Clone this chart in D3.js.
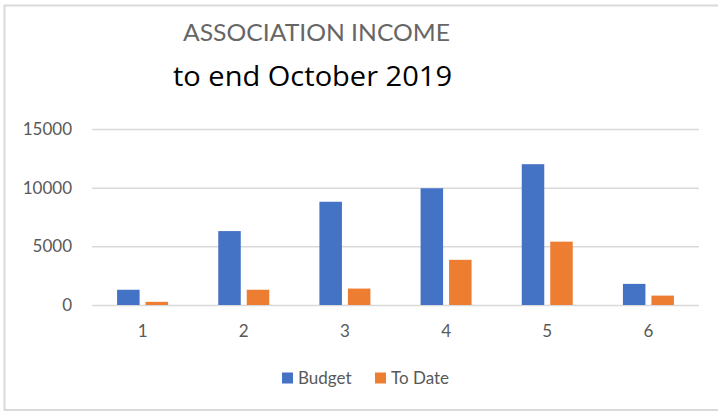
<!DOCTYPE html>
<html>
<head>
<meta charset="utf-8">
<script src="https://cdn.jsdelivr.net/npm/d3@7"></script>
<style>
  html, body { margin: 0; padding: 0; background: #fff; }
  svg { display: block; }
  text { font-family: Lato, "Open Sans", sans-serif; }
</style>
</head>
<body>
<svg id="chart" width="718" height="411"></svg>
<script>
const categories = ["1", "2", "3", "4", "5", "6"];
const seriesNames = ["Budget", "To Date"];
const budget = [1300, 6300, 8800, 9950, 12000, 1800];
const toDate = [270, 1300, 1400, 3850, 5400, 800];
const yTicks = [0, 5000, 10000, 15000];
const titleText = "ASSOCIATION INCOME";
const subtitleText = "to end October 2019";
const colors = ["#4472C4", "#ED7D31"];

const seriesValues = [budget, toDate];
const data = categories.map((c, i) => ({
  cat: c,
  values: seriesNames.map((s, j) => ({ series: s, value: seriesValues[j][i] }))
}));

const svg = d3.select("#chart");
const W = 718, H = 411;

// chart border
svg.append("rect")
  .attr("x", 4.5).attr("y", 5.5)
  .attr("width", W + 4).attr("height", H - 6.5)
  .attr("fill", "#fff")
  .attr("stroke", "#d9d9d9")
  .attr("stroke-width", 2);

const plot = { left: 92, right: 699, top: 129, bottom: 305 };

const x0 = d3.scaleBand()
  .domain(categories)
  .range([plot.left, plot.right])
  .padding(0);

const pairW = 51;
const x1 = d3.scaleBand()
  .domain(seriesNames)
  .range([x0.bandwidth() / 2 - pairW / 2, x0.bandwidth() / 2 + pairW / 2])
  .paddingInner(0.21)
  .paddingOuter(0);

const y = d3.scaleLinear()
  .domain([0, 15000])
  .range([plot.bottom, plot.top]);

// gridlines
const yAxis = d3.axisLeft(y)
  .tickValues(yTicks)
  .tickSize(-(plot.right - plot.left))
  .tickFormat(d3.format("d"))
  .tickPadding(20);

const gy = svg.append("g")
  .attr("transform", `translate(${plot.left},0)`)
  .call(yAxis);
gy.select(".domain").remove();
gy.selectAll(".tick line")
  .attr("stroke", "#d9d9d9")
  .attr("stroke-width", 1.5);
gy.selectAll(".tick text")
  .attr("fill", "#595959")
  .attr("font-size", 17)
  .attr("font-family", "Lato, 'Open Sans', sans-serif");

// bars
const groups = svg.append("g")
  .selectAll("g")
  .data(data)
  .join("g")
  .attr("transform", d => `translate(${x0(d.cat)},0)`);

groups.selectAll("rect")
  .data(d => d.values)
  .join("rect")
  .attr("x", d => x1(d.series))
  .attr("y", d => y(d.value))
  .attr("width", x1.bandwidth())
  .attr("height", d => y(0) - y(d.value))
  .attr("fill", (d, i) => colors[i]);

// x axis labels
const xAxis = d3.axisBottom(x0).tickSize(0).tickPadding(20);
const gx = svg.append("g")
  .attr("transform", `translate(0,${plot.bottom})`)
  .call(xAxis);
gx.select(".domain").remove();
gx.selectAll(".tick text")
  .attr("fill", "#595959")
  .attr("font-size", 17)
  .attr("font-family", "Lato, 'Open Sans', sans-serif");

// titles
svg.append("text")
  .attr("x", 183).attr("y", 41)
  .attr("fill", "#666666")
  .attr("font-size", 24)
  .attr("font-weight", 400)
  .attr("textLength", 267)
  .attr("lengthAdjust", "spacingAndGlyphs")
  .text(titleText);

svg.append("text")
  .attr("x", 173).attr("y", 86)
  .attr("fill", "#000")
  .attr("font-size", 27)
  .style("font-family", "'Open Sans', sans-serif")
  .attr("textLength", 279)
  .attr("lengthAdjust", "spacingAndGlyphs")
  .text(subtitleText);

// legend
const legendX = [282, 375];
const legend = svg.append("g");
seriesNames.forEach((s, i) => {
  legend.append("rect")
    .attr("x", legendX[i]).attr("y", 372.5)
    .attr("width", 11).attr("height", 11)
    .attr("fill", colors[i]);
  legend.append("text")
    .attr("x", legendX[i] + 16).attr("y", 384)
    .attr("fill", "#595959")
    .attr("font-size", 17)
    .text(s);
});
</script>
</body>
</html>
